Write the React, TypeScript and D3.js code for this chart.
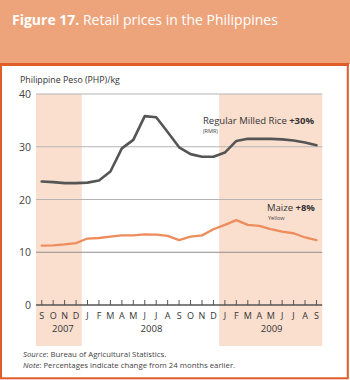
import React from "react";
import * as d3 from "d3";

// Monthly retail prices, Sep 2007 - Sep 2009 (PHP/kg)
const months = ["S", "O", "N", "D", "J", "F", "M", "A", "M", "J", "J", "A", "S", "O", "N", "D", "J", "F", "M", "A", "M", "J", "J", "A", "S"];
const rice = [23.4, 23.3, 23.1, 23.1, 23.2, 23.6, 25.3, 29.7, 31.3, 35.8, 35.6, 32.8, 29.9, 28.6, 28.1, 28.1, 28.9, 31.1, 31.5, 31.5, 31.5, 31.4, 31.2, 30.8, 30.3];
const maize = [11.25, 11.3, 11.5, 11.75, 12.6, 12.7, 12.95, 13.2, 13.2, 13.4, 13.35, 13.1, 12.3, 12.95, 13.2, 14.35, 15.2, 16.1, 15.2, 15.0, 14.4, 13.9, 13.6, 12.8, 12.3];

const years = ["2007", "2008", "2009"];
const yearFirst = [0, 4, 16];
const yearLast = [3, 15, 24];
const yearShaded = [true, false, true];

const yTicks = [0, 10, 20, 30, 40];

const FONT = "'Open Sans', sans-serif";
const HEADER = "#EDA47B";
const BORDER = "#E25C27";
const SHADE = "#FADFCF";

const App = () => {
  const x = d3
    .scaleBand<number>()
    .domain(d3.range(months.length))
    .range([36, 322.2])
    .paddingInner(0);
  const bw = x.bandwidth();
  const cx = (i: number) => (x(i) as number) + bw / 2;

  const y = d3.scaleLinear().domain([0, 40]).range([305, 94]);

  const line = d3
    .line<number>()
    .x((_, i) => cx(i))
    .y((d) => y(d))
    .curve(d3.curveLinear);

  return (
    <svg
      width={350}
      height={380}
      style={{ position: "absolute", left: 0, top: 0, display: "block" }}
      fontFamily={FONT}
    >
      {/* header band */}
      <rect x={0} y={0} width={350} height={64} fill={HEADER} />
      <text x={12} y={25} fontSize={14} fill="#fff">
        <tspan fontWeight="bold">Figure 17.</tspan>
        <tspan> Retail prices in the Philippines</tspan>
      </text>

      {/* frame */}
      <rect x={1} y={64.5} width={346.8} height={313.8} fill="#fff" stroke={BORDER} strokeWidth={2} />
      <line x1={0} x2={349} y1={64.5} y2={64.5} stroke={BORDER} strokeWidth={3} />

      {/* shaded years */}
      {years.map((yr, k) =>
        yearShaded[k] ? (
          <rect
            key={yr}
            x={x(yearFirst[k])}
            y={y(40)}
            width={(x(yearLast[k]) as number) + bw - (x(yearFirst[k]) as number)}
            height={346 - y(40)}
            fill={SHADE}
          />
        ) : null
      )}

      {/* y axis title */}
      <text x={20} y={83} fontSize={8.8} fill="#333">
        Philippine Peso (PHP)/kg
      </text>

      {/* gridlines */}
      {yTicks.filter((t) => t > 0).map((t) => (
        <line key={t} x1={36} x2={322.2} y1={y(t)} y2={y(t)} stroke={t === 10 ? "#8c8c8c" : "#b4b4b4"} strokeWidth={1} />
      ))}
      {yTicks.map((t) => (
        <text key={t} x={31} y={y(t) + 4} fontSize={10.5} textAnchor="end" fill="#444">
          {t}
        </text>
      ))}

      {/* x axis */}
      <line x1={36} x2={322.2} y1={y(0)} y2={y(0)} stroke="#555" strokeWidth={1.5} />
      {months.map((m, i) => (
        <g key={i}>
          <line x1={cx(i)} x2={cx(i)} y1={y(0) - 5} y2={y(0)} stroke="#555" strokeWidth={1} />
          <text x={cx(i)} y={319} fontSize={9} textAnchor="middle" fill="#333">
            {m}
          </text>
        </g>
      ))}
      {years.map((yr, k) => (
        <text
          key={yr}
          x={(cx(yearFirst[k]) + cx(yearLast[k])) / 2 + (k === 0 ? 4 : 1)}
          y={332}
          fontSize={9.5}
          textAnchor="middle"
          fill="#333"
        >
          {yr}
        </text>
      ))}

      {/* series */}
      <path d={line(maize) ?? ""} fill="none" stroke="#EE8C5C" strokeWidth={2.3} strokeLinejoin="round" strokeLinecap="round" />
      <path d={line(rice) ?? ""} fill="none" stroke="#555" strokeWidth={2.6} strokeLinejoin="round" strokeLinecap="round" />

      {/* labels */}
      <text x={203} y={124} fontSize={9.5} fill="#333">
        Regular Milled Rice <tspan fontWeight="bold">+30%</tspan>
      </text>
      <text x={203} y={132.5} fontSize={5.5} fill="#444">
        (RMR)
      </text>
      <text x={267} y={211} fontSize={9.5} fill="#333">
        Maize <tspan fontWeight="bold">+8%</tspan>
      </text>
      <text x={268} y={219.5} fontSize={5.5} fill="#444">
        Yellow
      </text>

      {/* footer */}
      <text x={23} y={357} fontSize={7.8} fill="#444">
        <tspan fontStyle="italic">Source</tspan>: Bureau of Agricultural Statistics.
      </text>
      <text x={23} y={367.5} fontSize={7.8} fill="#444">
        <tspan fontStyle="italic">Note</tspan>: Percentages indicate change from 24 months earlier.
      </text>
    </svg>
  );
};

export default App;
